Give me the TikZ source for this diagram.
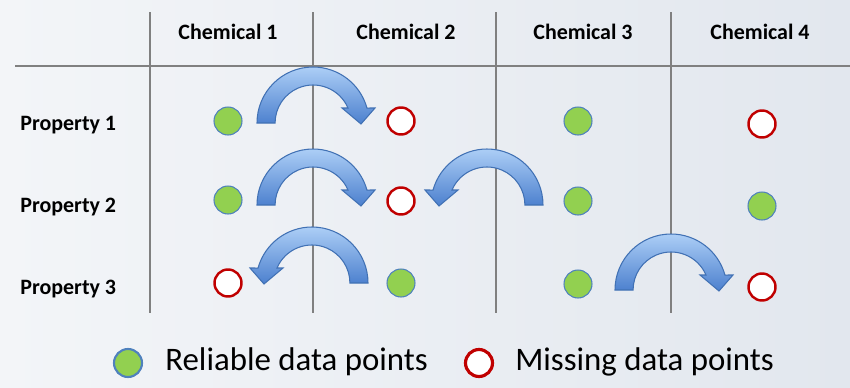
\documentclass[tikz,border=0pt]{standalone}
\usepackage{fontspec}
\setmainfont{Carlito}
\definecolor{gridgray}{RGB}{128,128,128}
\definecolor{dotgreen}{RGB}{146,208,80}
\definecolor{dotedge}{RGB}{79,129,189}
\definecolor{missred}{RGB}{192,0,0}
\definecolor{arrtop}{RGB}{172,206,246}
\definecolor{arrbot}{RGB}{76,128,206}
\definecolor{arredge}{RGB}{65,113,180}
\definecolor{bgleft}{RGB}{243,245,248}
\definecolor{bgright}{RGB}{226,231,238}

\newcommand{\bendarrow}[3]{%
  \begin{scope}[shift={(#1,#2)},xscale=#3]
    \shadedraw[top color=arrtop,bottom color=arrbot,draw=arredge,line width=0.6pt]
      (-56,0) arc[start angle=180,end angle=15.5,radius=56] -- (62,15) -- (48,-1)
      -- (29,15) -- (35,15) arc[start angle=23.25,end angle=180,radius=38] -- cycle;
  \end{scope}}

\begin{document}
\begin{tikzpicture}[x=0.02cm,y=0.02cm,
            every node/.style={inner sep=0pt},
            good/.style={circle,draw=dotedge,fill=dotgreen,line width=0.6pt,minimum size=0.56cm},
            miss/.style={circle,draw=missred,fill=white,line width=1.4pt,minimum size=0.54cm},
            head/.style={font=\bfseries\fontsize{12.5}{15}\selectfont},
            prop/.style={font=\bfseries\fontsize{12.5}{15}\selectfont,anchor=base west},
            key/.style={font=\fontsize{18.7}{22}\selectfont,anchor=base west}]
                \useasboundingbox (0,0) rectangle (850,387);
                \shade[left color=bgleft,right color=bgright] (0,0) rectangle (850,387);

                \draw[gridgray,line width=1.5pt] (15,321) -- (850,321);
                \foreach \x in {150,313,496,671}
                    \draw[gridgray,line width=1.5pt] (\x,375) -- (\x,74);

                \node[head](c1) at (228,355) {Chemical 1};
                \node[head](c2) at (406,355) {Chemical 2};
                \node[head](c3) at (583,355) {Chemical 3};
                \node[head](c4) at (760,355) {Chemical 4};

                \node[prop](p1) at (20,257) {Property 1};
                \node[prop](p2) at (20,175) {Property 2};
                \node[prop](p3) at (20,93) {Property 3};

                \bendarrow{313}{264}{1}
                \bendarrow{313}{182}{1}
                \bendarrow{487}{182}{-1}
                \bendarrow{312}{104}{-1}
                \bendarrow{671}{97}{1}

                \node[good](g11) at (228,266) {};
                \node[miss](m12) at (401,266) {};
                \node[good](g13) at (578,266) {};
                \node[miss](m14) at (762,263) {};
                \node[good](g21) at (228,187) {};
                \node[miss](m22) at (401,186) {};
                \node[good](g23) at (578,186) {};
                \node[good](g24) at (762,181) {};
                \node[miss](m31) at (228,104) {};
                \node[good](g32) at (401,104) {};
                \node[good](g33) at (578,103) {};
                \node[miss](m34) at (762,100) {};

            \begin{scope}[minimum size=0.8cm]
                \node[good,line width=1.2pt](kg) at (128,24) {};
                \node[key](kgt) at (165,17) {Reliable data points};
                \node[miss,line width=1.8pt](km) at (479,24) {};
                \node[key](kmt) at (515,17) {Missing data points};
            \end{scope}
        \end{tikzpicture}
\end{document}
